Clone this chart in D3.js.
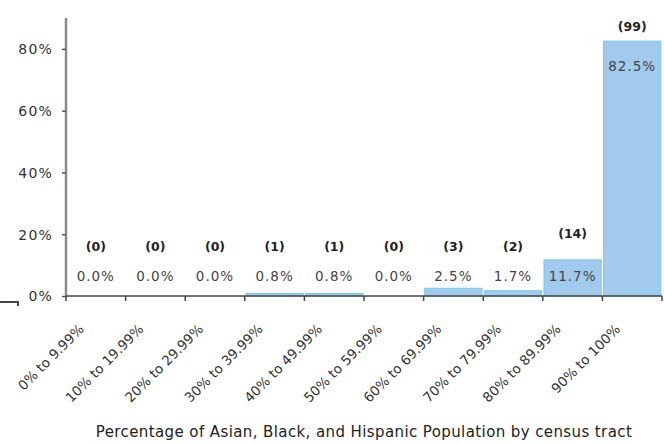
<!DOCTYPE html>
<html>
<head>
<meta charset="utf-8">
<script src="https://cdn.jsdelivr.net/npm/d3@7/dist/d3.min.js"></script>
<style>
  html, body { margin: 0; padding: 0; background: #fff; }
  svg { display: block; }
  text { font-family: "DejaVu Sans", Verdana, sans-serif; }
</style>
</head>
<body>
<script>
const categories = ["0% to 9.99%", "10% to 19.99%", "20% to 29.99%", "30% to 39.99%", "40% to 49.99%",
                    "50% to 59.99%", "60% to 69.99%", "70% to 79.99%", "80% to 89.99%", "90% to 100%"];
const percents = [0.0, 0.0, 0.0, 0.8, 0.8, 0.0, 2.5, 1.7, 11.7, 82.5];
const counts = [0, 0, 0, 1, 1, 0, 3, 2, 14, 99];
const yTicks = [0, 20, 40, 60, 80];
const xTitle = "Percentage of Asian, Black, and Hispanic Population by census tract";

const W = 664, H = 443;
const svg = d3.select("body").append("svg").attr("width", W).attr("height", H);

const x = d3.scaleBand().domain(categories).range([66, 662]).paddingInner(0.04).paddingOuter(0.02);
const y = d3.scaleLinear().domain([0, 90]).range([296, 18]);

// bars
svg.append("g").selectAll("rect").data(categories).join("rect")
  .attr("x", d => x(d))
  .attr("width", x.bandwidth())
  .attr("y", (d, i) => y(percents[i]))
  .attr("height", (d, i) => y(0) - y(percents[i]))
  .attr("fill", "#a2c9ee")
  .attr("stroke", "#6fcbf2")
  .attr("stroke-width", 1);

// y axis
const yAxis = d3.axisLeft(y).tickValues(yTicks).tickFormat(d => d + "%").tickSize(4).tickPadding(9);
const gy = svg.append("g").attr("transform", "translate(66,0)").call(yAxis);
gy.select(".domain").attr("stroke", "#8a8a8a").attr("stroke-width", 2.5).attr("d", "M0,18V297");
gy.selectAll(".tick line").attr("stroke", "#555").attr("stroke-width", 1.5);
gy.selectAll(".tick text").attr("font-size", 14).attr("letter-spacing", 1.2).attr("fill", "#333").attr("dy", "0.35em");

// x axis
const xAxis = d3.axisBottom(x).tickSize(4).tickFormat("");
const gx = svg.append("g").attr("transform", "translate(0,296)").call(xAxis);
gx.select(".domain").attr("stroke", "#444").attr("stroke-width", 1.5).attr("d", "M66,0H662");
gx.selectAll(".tick").remove();
// tick marks at band boundaries
const boundaries = categories.map(c => x(c) - x.step() * x.paddingInner() / 2).concat([662]);
gx.selectAll(".bnd").data(boundaries).join("line")
  .attr("x1", d => d).attr("x2", d => d).attr("y1", 0).attr("y2", 5)
  .attr("stroke", "#444").attr("stroke-width", 1.5);

// x tick labels rotated
svg.append("g").selectAll("text").data(categories).join("text")
  .attr("transform", d => `translate(${x(d) + x.bandwidth() / 2 - 11},330) rotate(-45)`)
  .attr("text-anchor", "end")
  .attr("font-size", 13.5)
  .attr("fill", "#333")
  .text(d => d);

// percent labels
const pctY = v => Math.min(y(v) + 25, 276);
svg.append("g").selectAll("text").data(categories).join("text")
  .attr("x", d => x(d) + x.bandwidth() / 2)
  .attr("y", (d, i) => pctY(percents[i]))
  .attr("dy", "0.35em")
  .attr("text-anchor", "middle")
  .attr("font-size", 13.5)
  .attr("letter-spacing", 1)
  .attr("fill", "#444")
  .text((d, i) => percents[i].toFixed(1) + "%");

// count labels
svg.append("g").selectAll("text").data(categories).join("text")
  .attr("x", d => x(d) + x.bandwidth() / 2)
  .attr("y", (d, i) => Math.max(27, Math.min(y(percents[i]) - 26, 247)))
  .attr("dy", "0.35em")
  .attr("text-anchor", "middle")
  .attr("font-size", 12.5)
  .attr("font-weight", "bold")
  .attr("fill", "#222")
  .text((d, i) => "(" + counts[i] + ")");

// stray hook at left
svg.append("path").attr("d", "M0,302H18V306").attr("fill", "none").attr("stroke", "#444").attr("stroke-width", 2);

// axis title
svg.append("text")
  .attr("x", 364).attr("y", 437)
  .attr("text-anchor", "middle")
  .attr("font-size", 15)
  .attr("letter-spacing", 0.4)
  .attr("fill", "#222")
  .text(xTitle);
</script>
</body>
</html>
